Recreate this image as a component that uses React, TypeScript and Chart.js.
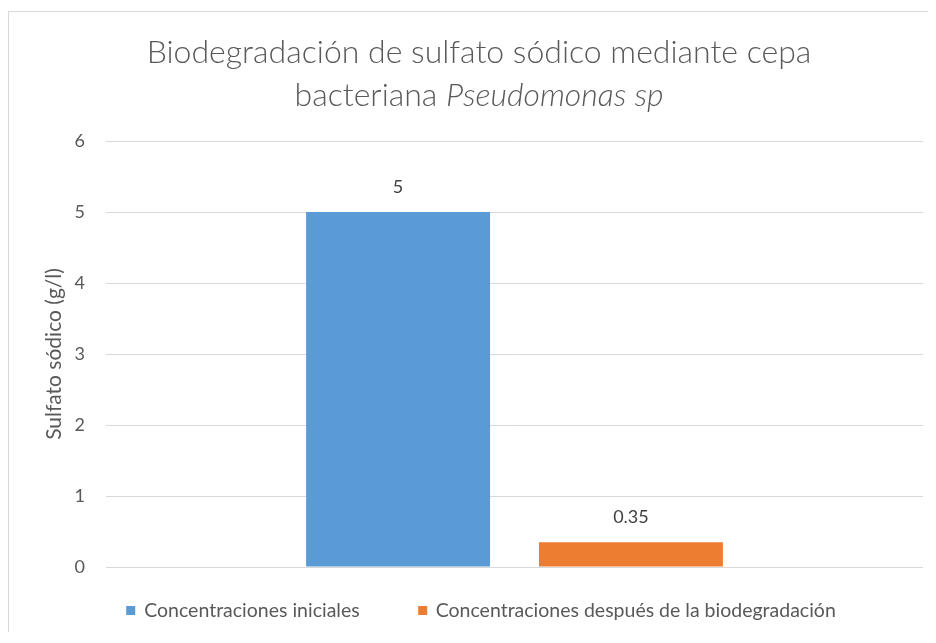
import React, { useEffect, useRef } from "react";
import { Chart, registerables } from "chart.js";

Chart.register(...registerables);

const categories: string[] = [""];
const seriesNames: string[] = [
  "Concentraciones iniciales",
  "Concentraciones después de la biodegradación",
];
const inicialValues: number[] = [5];
const despuesValues: number[] = [0.35];
const seriesColors: string[] = ["#5B9BD5", "#ED7D31"];
const yTicks: number[] = [0, 1, 2, 3, 4, 5, 6];
const titleLine1 = "Biodegradación de sulfato sódico mediante cepa";
const titleLine2Plain = "bacteriana ";
const titleLine2Italic = "Pseudomonas sp";
const yAxisTitle = "Sulfato sódico (g/l)";

const FONT = "Lato, 'Noto Sans', sans-serif";
const TEXT = "#595959";

const dataLabelPlugin = {
  id: "dataLabels",
  afterDatasetsDraw(chart: any) {
    const ctx = chart.ctx;
    ctx.save();
    ctx.font = `18px ${FONT}`;
    ctx.fillStyle = "#404040";
    ctx.textAlign = "center";
    ctx.textBaseline = "middle";
    chart.data.datasets.forEach((ds: any, i: number) => {
      const meta = chart.getDatasetMeta(i);
      meta.data.forEach((el: any, j: number) => {
        ctx.fillText(String(ds.data[j]), el.x, el.y - 25);
      });
    });
    ctx.restore();
  },
};

export default function App() {
  const canvasRef = useRef<HTMLCanvasElement | null>(null);

  useEffect(() => {
    if (!canvasRef.current) return;
    const chart = new Chart(canvasRef.current, {
      type: "bar",
      data: {
        labels: categories,
        datasets: [
          {
            label: seriesNames[0],
            data: inicialValues,
            backgroundColor: seriesColors[0],
            categoryPercentage: 0.57,
            barPercentage: 0.79,
          },
          {
            label: seriesNames[1],
            data: despuesValues,
            backgroundColor: seriesColors[1],
            categoryPercentage: 0.57,
            barPercentage: 0.79,
          },
        ],
      },
      options: {
        responsive: false,
        animation: false,
        devicePixelRatio: 1,
        layout: { padding: { top: 129, bottom: 65, left: 0, right: 5 } },
        plugins: {
          legend: { display: false },
          title: { display: false },
          tooltip: { enabled: false },
        },
        scales: {
          x: { display: false },
          y: {
            min: 0,
            max: 6,
            afterFit: (scale: any) => {
              scale.width = 97;
            },
            afterBuildTicks: (scale: any) => {
              scale.ticks = yTicks.map((v) => ({ value: v }));
            },
            border: { display: false },
            grid: { color: "#d9d9d9", lineWidth: 1, drawTicks: false },
            ticks: {
              padding: 21,
              color: TEXT,
              font: { family: FONT, size: 18 },
            },
            title: {
              display: true,
              text: yAxisTitle,
              color: TEXT,
              font: { family: FONT, size: 21 },
              padding: { top: 33, bottom: 0 },
            },
          },
        },
      },
      plugins: [dataLabelPlugin],
    });
    return () => chart.destroy();
  }, []);

  return (
    <div style={{ paddingTop: 3 }}>
      <div
        style={{
          position: "relative",
          width: 919,
          height: 620,
          borderTop: "1px solid #d9d9d9",
          borderLeft: "1px solid #d9d9d9",
          fontFamily: FONT,
        }}
      >
        <canvas
          ref={canvasRef}
          width={919}
          height={620}
          style={{ display: "block", width: 919, height: 620 }}
        />
        <div
          style={{
            position: "absolute",
            top: 17,
            left: 470,
            transform: "translateX(-50%)",
            whiteSpace: "nowrap",
            textAlign: "center",
            fontSize: 32,
            fontWeight: 300,
            lineHeight: "43px",
            color: TEXT,
          }}
        >
          <div>{titleLine1}</div>
          <div>
            {titleLine2Plain}
            <i>{titleLine2Italic}</i>
          </div>
        </div>
        <div
          style={{
            position: "absolute",
            top: 586,
            left: 472,
            transform: "translateX(-50%)",
            whiteSpace: "nowrap",
            display: "flex",
            alignItems: "center",
            gap: 58,
            fontSize: 19.5,
            lineHeight: "24px",
            color: TEXT,
          }}
        >
          {seriesNames.map((name, i) => (
            <div key={name} style={{ display: "flex", alignItems: "center" }}>
              <span
                style={{
                  display: "inline-block",
                  width: 9,
                  height: 9,
                  background: seriesColors[i],
                  marginRight: 9,
                }}
              />
              <span>{name}</span>
            </div>
          ))}
        </div>
      </div>
    </div>
  );
}
